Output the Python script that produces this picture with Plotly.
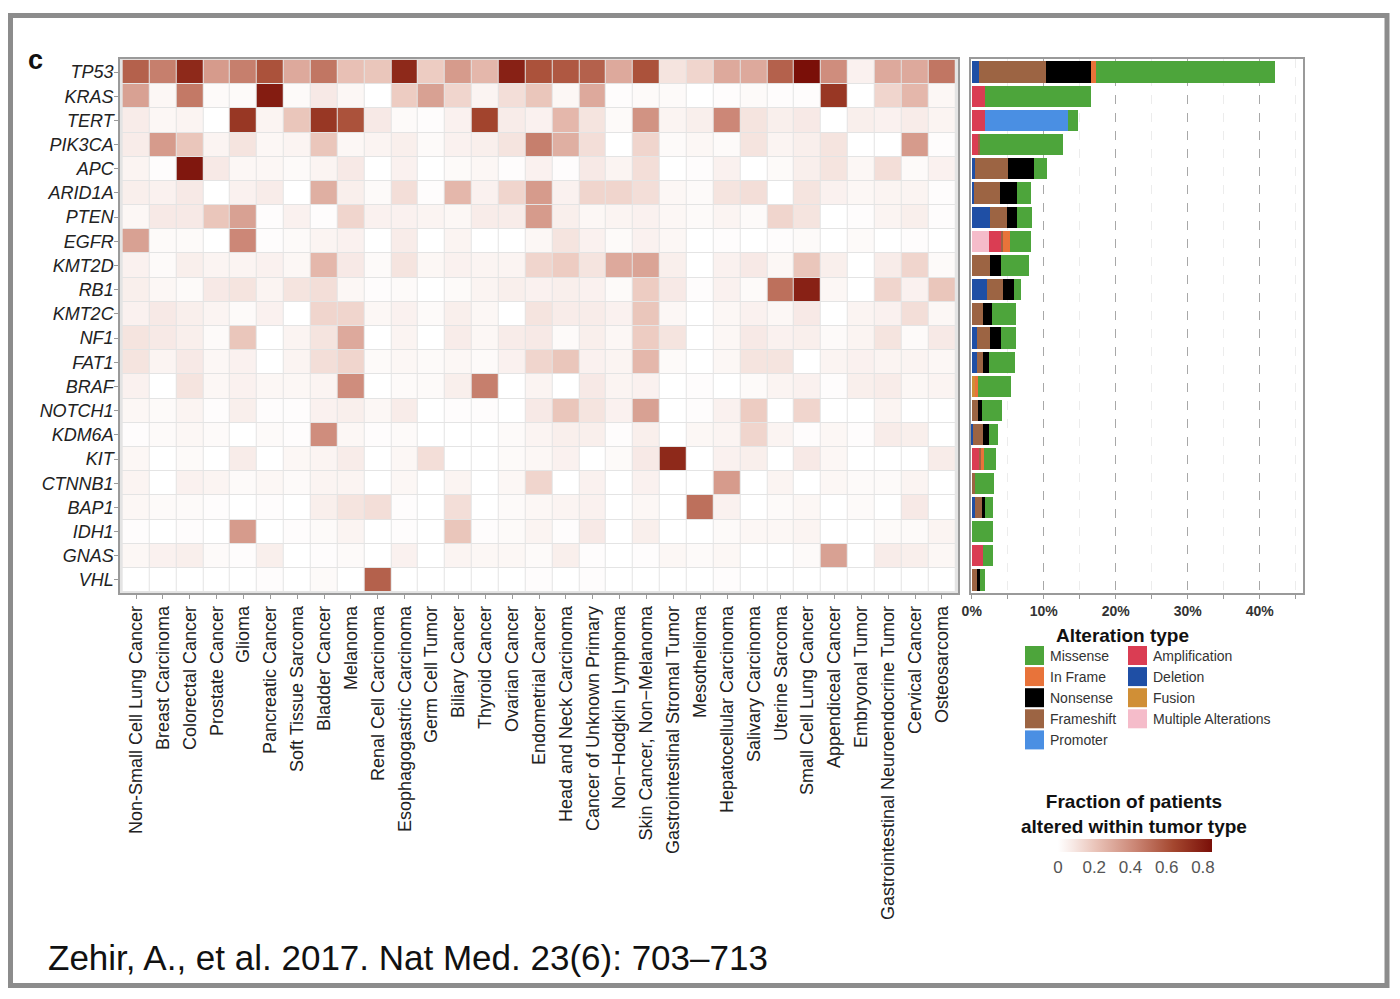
import plotly.graph_objects as go

FONT = "Liberation Sans, Arial, Helvetica, sans-serif"
W, H = 1400, 999

def px(x):
    return x / W

def py(y):
    return 1 - y / H

# ---------------- data ----------------
cancer_types = [
    "Non-Small Cell Lung Cancer", "Breast Carcinoma", "Colorectal Cancer", "Prostate Cancer",
    "Glioma", "Pancreatic Cancer", "Soft Tissue Sarcoma", "Bladder Cancer", "Melanoma",
    "Renal Cell Carcinoma", "Esophagogastric Carcinoma", "Germ Cell Tumor", "Biliary Cancer",
    "Thyroid Cancer", "Ovarian Cancer", "Endometrial Cancer", "Head and Neck Carcinoma",
    "Cancer of Unknown Primary", "Non\u2212Hodgkin Lymphoma", "Skin Cancer, Non\u2212Melanoma",
    "Gastrointestinal Stromal Tumor", "Mesothelioma", "Hepatocellular Carcinoma",
    "Salivary Carcinoma", "Uterine Sarcoma", "Small Cell Lung Cancer", "Appendiceal Cancer",
    "Embryonal Tumor", "Gastrointestinal Neuroendocrine Tumor", "Cervical Cancer", "Osteosarcoma",
]

genes = ["TP53", "KRAS", "TERT", "PIK3CA", "APC", "ARID1A", "PTEN", "EGFR", "KMT2D", "RB1",
         "KMT2C", "NF1", "FAT1", "BRAF", "NOTCH1", "KDM6A", "KIT", "CTNNB1", "BAP1", "IDH1",
         "GNAS", "VHL"]

# fraction of patients altered within tumor type (one list per gene, cancer-type order)
tp53 = [0.55, 0.45, 0.75, 0.35, 0.45, 0.60, 0.30, 0.48, 0.22, 0.20, 0.75, 0.18, 0.35, 0.25, 0.78, 0.60,
        0.58, 0.55, 0.30, 0.60, 0.10, 0.15, 0.30, 0.30, 0.55, 0.88, 0.40, 0.05, 0.30, 0.30, 0.48]
kras = [0.33, 0.03, 0.47, 0.02, 0.02, 0.80, 0.02, 0.08, 0.03, 0.00, 0.18, 0.33, 0.15, 0.04, 0.12, 0.20,
        0.03, 0.30, 0.01, 0.02, 0.02, 0.00, 0.01, 0.02, 0.01, 0.01, 0.70, 0.00, 0.15, 0.25, 0.03]
tert = [0.07, 0.03, 0.04, 0.00, 0.70, 0.04, 0.20, 0.70, 0.60, 0.08, 0.02, 0.01, 0.05, 0.65, 0.07, 0.05,
        0.25, 0.10, 0.02, 0.38, 0.04, 0.06, 0.42, 0.10, 0.06, 0.08, 0.00, 0.06, 0.05, 0.07, 0.04]
pik3ca = [0.07, 0.35, 0.20, 0.04, 0.10, 0.03, 0.04, 0.20, 0.03, 0.04, 0.06, 0.02, 0.05, 0.06, 0.10, 0.45,
          0.28, 0.12, 0.00, 0.15, 0.02, 0.03, 0.02, 0.10, 0.04, 0.06, 0.10, 0.00, 0.00, 0.35, 0.01]
apc = [0.04, 0.01, 0.82, 0.08, 0.03, 0.03, 0.02, 0.04, 0.08, 0.00, 0.05, 0.00, 0.02, 0.03, 0.01, 0.05,
       0.01, 0.08, 0.04, 0.12, 0.00, 0.01, 0.05, 0.00, 0.02, 0.06, 0.10, 0.03, 0.12, 0.02, 0.05]
arid1a = [0.06, 0.05, 0.08, 0.00, 0.05, 0.07, 0.00, 0.28, 0.06, 0.02, 0.12, 0.01, 0.25, 0.05, 0.15, 0.35,
          0.05, 0.15, 0.15, 0.12, 0.03, 0.02, 0.10, 0.12, 0.00, 0.10, 0.05, 0.03, 0.04, 0.04, 0.01]
pten = [0.03, 0.08, 0.08, 0.20, 0.33, 0.01, 0.05, 0.01, 0.15, 0.05, 0.05, 0.04, 0.03, 0.07, 0.07, 0.35,
        0.06, 0.03, 0.04, 0.05, 0.03, 0.02, 0.04, 0.02, 0.15, 0.10, 0.00, 0.01, 0.04, 0.06, 0.01]
egfr = [0.33, 0.02, 0.02, 0.00, 0.42, 0.01, 0.02, 0.04, 0.05, 0.00, 0.07, 0.00, 0.04, 0.00, 0.00, 0.03,
        0.10, 0.05, 0.02, 0.05, 0.03, 0.00, 0.01, 0.00, 0.01, 0.02, 0.00, 0.02, 0.00, 0.01, 0.00]
kmt2d = [0.05, 0.02, 0.06, 0.04, 0.04, 0.05, 0.03, 0.25, 0.08, 0.02, 0.10, 0.03, 0.05, 0.04, 0.04, 0.15,
         0.18, 0.10, 0.30, 0.32, 0.06, 0.00, 0.05, 0.08, 0.03, 0.20, 0.06, 0.00, 0.07, 0.15, 0.02]
rb1 = [0.06, 0.03, 0.02, 0.08, 0.10, 0.04, 0.10, 0.12, 0.03, 0.01, 0.02, 0.00, 0.02, 0.04, 0.06, 0.05,
       0.06, 0.05, 0.02, 0.18, 0.08, 0.01, 0.05, 0.02, 0.50, 0.78, 0.03, 0.00, 0.15, 0.05, 0.20]
kmt2c = [0.05, 0.08, 0.06, 0.04, 0.02, 0.05, 0.00, 0.15, 0.15, 0.03, 0.05, 0.02, 0.06, 0.03, 0.00, 0.10,
         0.07, 0.07, 0.05, 0.20, 0.03, 0.00, 0.03, 0.05, 0.03, 0.08, 0.00, 0.04, 0.05, 0.12, 0.03]
nf1 = [0.10, 0.08, 0.06, 0.02, 0.20, 0.00, 0.04, 0.10, 0.30, 0.00, 0.04, 0.00, 0.07, 0.03, 0.07, 0.08,
       0.02, 0.06, 0.03, 0.18, 0.10, 0.00, 0.03, 0.08, 0.05, 0.06, 0.02, 0.04, 0.10, 0.02, 0.08]
fat1 = [0.10, 0.04, 0.08, 0.03, 0.05, 0.00, 0.04, 0.12, 0.15, 0.02, 0.03, 0.02, 0.03, 0.02, 0.05, 0.15,
        0.20, 0.05, 0.04, 0.25, 0.02, 0.00, 0.03, 0.10, 0.10, 0.00, 0.04, 0.05, 0.04, 0.04, 0.03]
braf = [0.05, 0.00, 0.10, 0.03, 0.05, 0.03, 0.03, 0.04, 0.40, 0.00, 0.02, 0.02, 0.06, 0.45, 0.00, 0.04,
        0.00, 0.08, 0.04, 0.05, 0.00, 0.01, 0.00, 0.02, 0.04, 0.05, 0.01, 0.06, 0.07, 0.03, 0.04]
notch1 = [0.03, 0.02, 0.04, 0.01, 0.06, 0.01, 0.01, 0.05, 0.06, 0.03, 0.07, 0.00, 0.01, 0.01, 0.00, 0.08,
          0.20, 0.10, 0.05, 0.33, 0.00, 0.01, 0.05, 0.18, 0.00, 0.15, 0.00, 0.00, 0.04, 0.00, 0.00]
kdm6a = [0.01, 0.02, 0.03, 0.02, 0.00, 0.02, 0.01, 0.40, 0.03, 0.01, 0.02, 0.00, 0.00, 0.00, 0.02, 0.04,
         0.06, 0.06, 0.01, 0.06, 0.00, 0.03, 0.04, 0.15, 0.04, 0.01, 0.03, 0.01, 0.07, 0.06, 0.00]
kit = [0.03, 0.00, 0.02, 0.00, 0.07, 0.00, 0.03, 0.04, 0.07, 0.00, 0.03, 0.12, 0.00, 0.00, 0.02, 0.03,
       0.05, 0.00, 0.02, 0.08, 0.75, 0.00, 0.05, 0.06, 0.00, 0.08, 0.03, 0.00, 0.00, 0.00, 0.07]
ctnnb1 = [0.04, 0.00, 0.05, 0.04, 0.02, 0.03, 0.02, 0.04, 0.04, 0.00, 0.03, 0.00, 0.04, 0.00, 0.03, 0.15,
          0.00, 0.05, 0.00, 0.05, 0.00, 0.00, 0.35, 0.00, 0.04, 0.00, 0.03, 0.02, 0.02, 0.04, 0.00]
bap1 = [0.03, 0.02, 0.02, 0.01, 0.00, 0.01, 0.00, 0.06, 0.10, 0.12, 0.01, 0.00, 0.12, 0.00, 0.02, 0.03,
        0.04, 0.05, 0.00, 0.03, 0.00, 0.50, 0.05, 0.00, 0.02, 0.03, 0.00, 0.02, 0.00, 0.08, 0.00]
idh1 = [0.01, 0.00, 0.01, 0.00, 0.35, 0.00, 0.01, 0.02, 0.04, 0.00, 0.01, 0.00, 0.20, 0.01, 0.02, 0.04,
        0.01, 0.08, 0.00, 0.06, 0.00, 0.00, 0.02, 0.03, 0.03, 0.04, 0.00, 0.00, 0.02, 0.02, 0.04]
gnas = [0.03, 0.05, 0.06, 0.02, 0.01, 0.06, 0.00, 0.01, 0.02, 0.00, 0.05, 0.00, 0.04, 0.03, 0.03, 0.02,
        0.06, 0.01, 0.00, 0.01, 0.03, 0.02, 0.03, 0.00, 0.00, 0.02, 0.33, 0.00, 0.07, 0.06, 0.03]
vhl = [0.00, 0.00, 0.00, 0.00, 0.00, 0.01, 0.00, 0.02, 0.00, 0.55, 0.00, 0.00, 0.00, 0.00, 0.00, 0.01,
       0.00, 0.01, 0.00, 0.00, 0.00, 0.00, 0.01, 0.00, 0.00, 0.00, 0.00, 0.00, 0.00, 0.00, 0.00]

heat_rows = [tp53, kras, tert, pik3ca, apc, arid1a, pten, egfr, kmt2d, rb1, kmt2c, nf1, fat1,
             braf, notch1, kdm6a, kit, ctnnb1, bap1, idh1, gnas, vhl]

# percent of all patients, per alteration type (gene order)
deletion =     [1.0, 0, 0, 0, 0.4, 0.3, 2.5, 0, 0, 2.1, 0, 0.7, 0.7, 0, 0, 0.2, 0, 0, 0.4, 0, 0, 0]
multiple =     [0, 0, 0, 0, 0, 0, 0, 2.4, 0, 0, 0, 0, 0, 0, 0, 0, 0, 0, 0, 0, 0, 0]
amplification =[0, 1.8, 1.8, 0.9, 0, 0, 0, 1.8, 0, 0, 0, 0, 0, 0, 0, 0, 1.0, 0, 0, 0, 1.5, 0]
fusion =       [0, 0, 0, 0, 0, 0, 0, 0, 0, 0, 0, 0, 0, 0.5, 0, 0, 0, 0, 0, 0, 0, 0]
frameshift =   [9.3, 0, 0, 0.3, 4.6, 3.6, 2.4, 0.2, 2.6, 2.3, 1.5, 1.9, 0.9, 0, 0.9, 1.4, 0.3, 0.5, 1.0, 0, 0, 0.7]
nonsense =     [6.2, 0, 0, 0, 3.7, 2.4, 1.4, 0, 1.5, 1.5, 1.3, 1.5, 0.8, 0, 0.5, 0.8, 0, 0, 0.5, 0, 0, 0.4]
in_frame =     [0.7, 0, 0, 0, 0, 0, 0, 0.9, 0, 0, 0, 0, 0, 0.4, 0, 0, 0.4, 0, 0, 0, 0, 0]
promoter =     [0, 0, 11.5, 0, 0, 0, 0, 0, 0, 0, 0, 0, 0, 0, 0, 0, 0, 0, 0, 0, 0, 0]
missense =     [24.9, 14.8, 1.4, 11.5, 1.8, 2.0, 2.1, 2.9, 3.9, 0.9, 3.4, 2.0, 3.6, 4.6, 2.8, 1.2, 1.7, 2.6, 1.1, 3.0, 1.5, 0.8]

colorbar_ticks = [0, 0.2, 0.4, 0.6, 0.8]

# ---------------- styles ----------------
alt_colors = {
    "Missense": "#4DA53B",
    "In Frame": "#E8733A",
    "Nonsense": "#000000",
    "Frameshift": "#9C6443",
    "Promoter": "#4A8FE3",
    "Amplification": "#DA3D53",
    "Deletion": "#1F4FA5",
    "Fusion": "#D08F36",
    "Multiple Alterations": "#F5BCCA",
}
stack_series = [
    ("Deletion", deletion), ("Multiple Alterations", multiple), ("Amplification", amplification),
    ("Fusion", fusion), ("Frameshift", frameshift), ("Nonsense", nonsense),
    ("In Frame", in_frame), ("Promoter", promoter), ("Missense", missense),
]

colorscale = [
    [0.0, "#FFFFFF"], [0.1, "#F7E8E4"], [0.25, "#E9C2B7"], [0.5, "#CB8675"],
    [0.75, "#A4472F"], [1.0, "#7A0F08"],
]

fig = go.Figure()

fig.add_trace(go.Heatmap(
    z=heat_rows, x=cancer_types, y=genes, xaxis="x", yaxis="y",
    colorscale=colorscale, zmin=0, zmax=0.85, xgap=1, ygap=1,
    colorbar=dict(
        orientation="h", x=px(1135), xanchor="center", y=py(839), yanchor="top",
        len=154, lenmode="pixels", thickness=13, thicknessmode="pixels",
        xpad=0, ypad=0, outlinewidth=0,
        tickvals=colorbar_ticks, ticktext=[f"{v:g}" for v in colorbar_ticks],
        tickfont=dict(family=FONT, size=17, color="#555555"), ticks="",
    ),
    hoverongaps=False,
))

for name, vals in stack_series:
    fig.add_trace(go.Bar(
        x=vals, y=genes, orientation="h", name=name, xaxis="x2", yaxis="y2",
        marker=dict(color=alt_colors[name], line=dict(width=0)), showlegend=False,
    ))

axis_line = dict(showline=True, mirror=True, linecolor="#9a9a9a", linewidth=1.5)

fig.update_layout(
    width=W, height=H, margin=dict(l=0, r=0, t=0, b=0, autoexpand=False),
    paper_bgcolor="white", plot_bgcolor="white",
    font=dict(family=FONT, color="#222222"),
    barmode="stack", bargap=0.12, showlegend=False,
    xaxis=dict(domain=[px(120), px(958)], anchor="y", range=[-0.6, 30.6], automargin=False,
               tickangle=-90, ticks="outside", ticklen=4, tickcolor="#9a9a9a",
               tickfont=dict(family=FONT, size=18, color="#222222"),
               showgrid=False, zeroline=False, **axis_line),
    yaxis=dict(domain=[py(593), py(59)], anchor="x", range=[21.54, -0.54], automargin=False,
               tickvals=genes, ticktext=[f"<i>{g}</i>" for g in genes],
               ticks="outside", ticklen=4, tickcolor="#9a9a9a", ticklabelstandoff=-3,
               tickfont=dict(family=FONT, size=18, color="#222222"),
               showgrid=False, zeroline=False, **axis_line),
    xaxis2=dict(domain=[px(971), px(1303)], anchor="y2", range=[-0.1, 46.0], automargin=False,
                dtick=10, tick0=0, ticksuffix="%", ticks="outside", ticklen=4, tickcolor="#9a9a9a",
                tickfont=dict(family=FONT, size=14, color="#333333", weight="bold"),
                showgrid=True, gridcolor="#a8a8a8", gridwidth=1.2, griddash="dash",
                minor=dict(dtick=5, tick0=0, ticks="outside", ticklen=4, tickcolor="#9a9a9a",
                           showgrid=True, gridcolor="#ececec", gridwidth=1),
                zeroline=False, **axis_line),
    yaxis2=dict(domain=[py(593), py(59)], anchor="x2", range=[21.54, -0.54], automargin=False,
                categoryorder="array", categoryarray=genes,
                showticklabels=False, ticks="", showgrid=False, zeroline=False, **axis_line),
)

shapes = [
    # light gray grid behind heatmap cells
    dict(type="rect", xref="x domain", yref="y domain", x0=0, x1=1, y0=0, y1=1,
         fillcolor="#E4E4E4", line=dict(width=0), layer="below"),
    # outer frame
    dict(type="rect", xref="paper", yref="paper", x0=px(10.5), x1=px(1387), y0=py(985.5), y1=py(15.5),
         line=dict(color="#8c8c8c", width=5), fillcolor="rgba(0,0,0,0)"),
]

annotations = [
    dict(text="<b>c</b>", x=px(26), y=py(60), xref="paper", yref="paper", xanchor="left", yanchor="middle",
         showarrow=False, font=dict(family=FONT, size=27, color="#111111")),
    dict(text="Zehir, A., et al. 2017. Nat Med. 23(6): 703\u2013713", x=px(46), y=py(957),
         xref="paper", yref="paper", xanchor="left", yanchor="middle", showarrow=False,
         font=dict(family=FONT, size=35, color="#111111")),
    dict(text="<b>Alteration type</b>", x=px(1122), y=py(635), xref="paper", yref="paper",
         xanchor="center", yanchor="middle", showarrow=False,
         font=dict(family=FONT, size=19, color="#111111")),
    dict(text="<b>Fraction of patients<br>altered within tumor type</b>", x=px(1134), y=py(814),
         xref="paper", yref="paper", xanchor="center", yanchor="middle", showarrow=False,
         font=dict(family=FONT, size=19, color="#111111"), align="center"),
]

legend_col1 = ["Missense", "In Frame", "Nonsense", "Frameshift", "Promoter"]
legend_col2 = ["Amplification", "Deletion", "Fusion", "Multiple Alterations"]
for col_items, sx in ((legend_col1, 1025), (legend_col2, 1128)):
    for i, name in enumerate(col_items):
        top = 646 + i * 21.1
        shapes.append(dict(type="rect", xref="paper", yref="paper",
                           x0=px(sx), x1=px(sx + 19), y0=py(top + 19), y1=py(top),
                           fillcolor=alt_colors[name], line=dict(width=0)))
        annotations.append(dict(text=name, x=px(sx + 23), y=py(top + 9.5), xref="paper", yref="paper",
                                xanchor="left", yanchor="middle", showarrow=False,
                                font=dict(family=FONT, size=14, color="#333333")))

fig.update_layout(shapes=shapes, annotations=annotations)

fig.write_html("out.html")
